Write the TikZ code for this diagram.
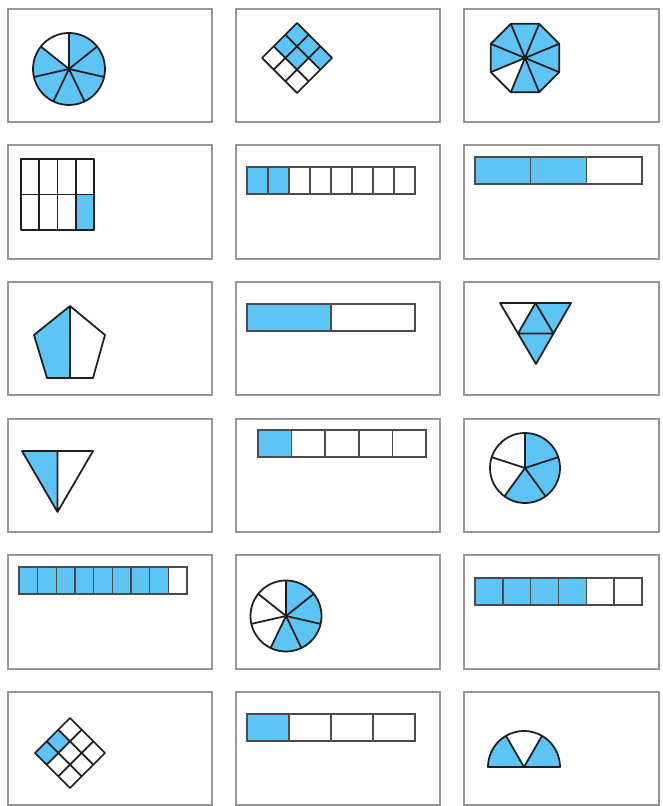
\documentclass[tikz,border=0pt]{standalone}
\usetikzlibrary{calc}
\definecolor{sky}{RGB}{94,196,246}
\definecolor{frame}{RGB}{150,150,150}
\definecolor{ink}{RGB}{30,30,30}
\tikzset{
  card/.style={draw=frame,line width=1.6pt,minimum width=#1,minimum height=3.4cm,inner sep=0pt},
  card/.default=6.12cm,
  part/.style={draw=ink,line width=1.5pt,line join=round},
  cell/.style={draw=ink!80,line width=1.3pt},
  % fraction pictures
  pics/bar/.style n args={3}{code={
    \fill[sky] (0,0) rectangle ({#2*#3},-27);
    \foreach \i in {1,...,#1} \draw[cell] ({(\i-1)*#3},0) rectangle ++(#3,-27);
  }},
  pics/pie/.style n args={3}{code={
    \fill[sky] (0,0) -- (90:#3) arc[start angle=90,delta angle={-360*#2/#1},radius=#3] -- cycle;
    \foreach \i in {1,...,#1} \draw[part] (0,0) -- ({90-360*(\i-1)/#1}:#3);
    \draw[part] (0,0) circle[radius=#3];
    \fill[ink] (0,0) circle[radius=1.5];
  }},
  pics/lattice/.style={code={
    \begin{scope}[rotate=45,shift={(-24.75,-24.75)}]
      \foreach \cx/\cy in {#1} \fill[sky] (16.5*\cx,16.5*\cy) rectangle ++(16.5,16.5);
      \foreach \k in {1,2} \draw[part] (16.5*\k,0) -- ++(0,49.5) (0,16.5*\k) -- ++(49.5,0);
      \draw[part] (0,0) rectangle (49.5,49.5);
    \end{scope}
  }},
}

\begin{document}
\begin{tikzpicture}[x=0.03cm,y=0.03cm]
  \useasboundingbox (0,0) rectangle (662,806);
  \foreach \r in {1,...,6}{
    \node[card] (card\r-1) at (110,{740.5-136.6*(\r-1)}) {};
    \node[card] (card\r-2) at (338,{740.5-136.6*(\r-1)}) {};
    \node[card=5.85cm] (card\r-3) at (561.5,{740.5-136.6*(\r-1)}) {};
  }

  % row 1
  \pic at (69,737) {pie={7}{6}{36}};
  \pic at (297,748) {lattice={2/2,2/1,1/2,1/1,2/0}};
  \begin{scope}[shift={(525,748)}]
    \fill[sky] (22.5:37) \foreach \a in {67.5,112.5,...,337.5}{-- (\a:37)} -- cycle;
    \fill[white] (0,0) -- (202.5:37) -- (247.5:37) -- cycle;
    \foreach \a in {22.5,67.5,...,337.5} \draw[part] (0,0) -- (\a:37);
    \draw[part] (22.5:37) \foreach \a in {67.5,112.5,...,337.5}{-- (\a:37)} -- cycle;
    \fill[ink] (0,0) circle[radius=1.5];
  \end{scope}

  % row 2
  \fill[sky] (75.75,576) rectangle (94,611.5);
  \foreach \i in {1,2,3} \draw[part] ({21+18.25*\i},576) -- ++(0,71);
  \draw[part] (21,611.5) -- (94,611.5);
  \draw[part] (21,576) rectangle (94,647);
  \pic at (247,639) {bar={8}{2}{21}};
  \pic at (475,649) {bar={3}{2}{55.67}};

  % row 3
  \fill[sky] (70,500) -- (34,471) -- (47,428) -- (70,428) -- cycle;
  \draw[part] (70,500) -- (34,471) -- (47,428) -- (93,428) -- (105,471) -- cycle (70,500) -- (70,428);
  \pic at (247,502) {bar={2}{1}{84}};
  \coordinate (ta) at (500,503);
  \coordinate (tb) at (571,503);
  \coordinate (tc) at (536,442);
  \fill[sky] (ta) -- (tb) -- (tc) -- cycle;
  \fill[white] (ta) -- ($(ta)!0.5!(tb)$) -- ($(ta)!0.5!(tc)$) -- cycle;
  \draw[part] (ta) -- (tb) -- (tc) -- cycle
    ($(ta)!0.5!(tb)$) -- ($(ta)!0.5!(tc)$) -- ($(tb)!0.5!(tc)$) -- cycle;

  % row 4
  \fill[sky] (22,355) -- (57.5,355) -- (57.5,294) -- cycle;
  \draw[part] (22,355) -- (93,355) -- (57.5,294) -- cycle (57.5,355) -- (57.5,294);
  \pic at (258,376) {bar={5}{1}{33.6}};
  \pic at (525,338) {pie={5}{3}{35}};

  % row 5
  \pic at (19,239) {bar={9}{8}{18.67}};
  \pic at (286,190) {pie={7}{4}{35.5}};
  \pic at (475,228) {bar={6}{4}{27.83}};

  % row 6
  \pic at (70,53) {lattice={1/2,0/2}};
  \pic at (247,92) {bar={4}{1}{42}};
  \begin{scope}[shift={(524,39)}]
    \fill[sky] (0,0) -- (36,0) arc[start angle=0,end angle=60,radius=36] -- cycle;
    \fill[sky] (0,0) -- (120:36) arc[start angle=120,end angle=180,radius=36] -- cycle;
    \draw[part] (-36,0) -- (36,0) arc[start angle=0,end angle=180,radius=36] -- cycle
      (60:36) -- (0,0) -- (120:36);
  \end{scope}
\end{tikzpicture}
\end{document}
